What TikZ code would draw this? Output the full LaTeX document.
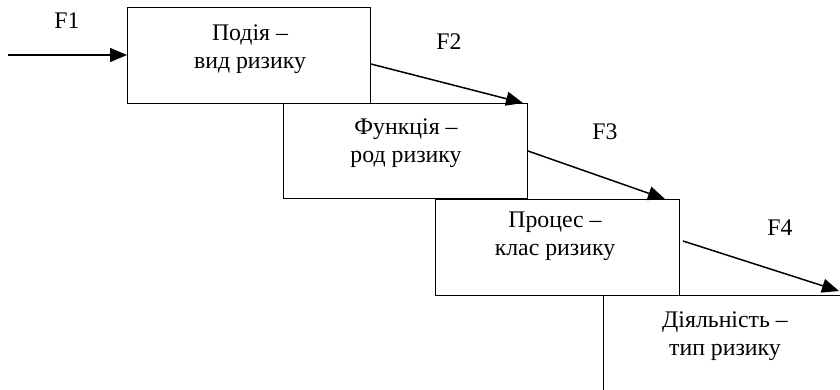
\documentclass[tikz,border=0pt]{standalone}
\usepackage{fontspec}
\setmainfont{Liberation Serif}
\usetikzlibrary{arrows.meta,calc}
\begin{document}
\begin{tikzpicture}[x=1pt,y=-1pt,
  box/.style={draw,line width=1pt,anchor=north west,inner sep=0pt},
  txt/.style={font=\fontsize{23.8}{28}\selectfont,align=center,inner sep=0pt},
  lbl/.style={font=\fontsize{23.8}{28}\selectfont,inner sep=0pt},
  arr/.style={-{Triangle[length=17pt,width=14pt]},line width=1.5pt}]
\useasboundingbox (0,0) rectangle (840,389);
\clip (0,0) rectangle (840,389);
\node[box,minimum width=243pt,minimum height=96pt] (b1) at (127,7) {};
\node[box,minimum width=244pt,minimum height=95pt] (b2) at (283,103) {};
\node[box,minimum width=244pt,minimum height=96pt] (b3) at (435,199) {};
\node[box,minimum width=300pt,minimum height=150pt] (b4) at (603,295) {};
\node[txt] (t1) at (250,49) {Подія –\\вид ризику};
\node[txt] (t2) at (406,143) {Функція –\\род ризику};
\node[txt] (t3) at (555,236) {Процес –\\клас ризику};
\node[txt] (t4) at (725,336) {Діяльність –\\тип ризику};
\coordinate (s1) at (8,55);
\draw[arr] (s1) -- (b1.west |- s1);
\draw[arr] ($(b1.north east)+(0,57)$) -- ($(b2.north east)+(-5,0)$);
\draw[arr] ($(b2.north east)+(0,48)$) -- ($(b3.north east)+(-15,0)$);
\draw[arr] ($(b3.north east)+(3,42)$) -- ($(b4.north west)+(236,-4)$);
\node[lbl] (f1) at (67,21) {F1};
\node[lbl] (f2) at (449,42) {F2};
\node[lbl] (f3) at (605,132) {F3};
\node[lbl] (f4) at (780,228) {F4};
\end{tikzpicture}
\end{document}
